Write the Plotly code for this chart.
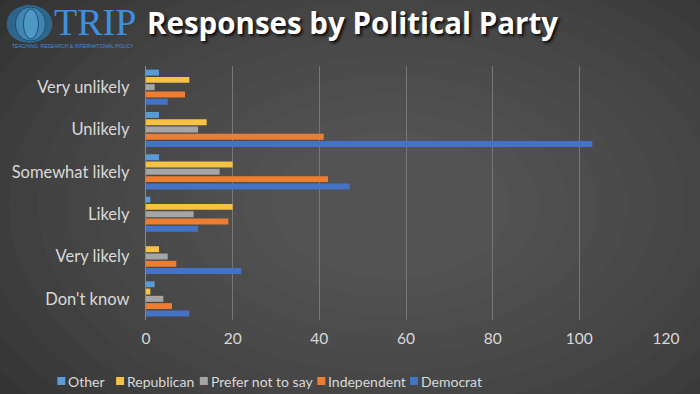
import plotly.graph_objects as go

categories = ["Very unlikely", "Unlikely", "Somewhat likely", "Likely", "Very likely", "Don't know"]
series_names = ["Other", "Republican", "Prefer not to say", "Independent", "Democrat"]
other = [3, 3, 3, 1, 0, 2]
republican = [10, 14, 20, 20, 3, 1]
prefer_not = [2, 12, 17, 11, 5, 4]
independent = [9, 41, 42, 19, 7, 6]
democrat = [5, 103, 47, 12, 22, 10]
x_ticks = [0, 20, 40, 60, 80, 100, 120]

values = [other, republican, prefer_not, independent, democrat]
colors = ["#5b9bd5", "#f6c244", "#a5a5a5", "#ed7d31", "#4472c4"]

W, H = 700, 394
L, R, T, B = 144, 34, 66, 74
PW, PH = W - L - R, H - T - B

def px(x):
    return (x - L) / PW

def py(y):
    return (H - B - y) / PH

fig = go.Figure()
for name, vals, col in zip(series_names, values, colors):
    fig.add_trace(go.Bar(y=categories, x=vals, name=name, orientation="h", showlegend=False,
                         marker=dict(color=col, line=dict(width=0))))

shapes = []
# background radial gradient
n = 16
for i in range(n):
    f = 1 - i / n
    cx, cy = 390, 205
    ax, ay = 90 + 470 * f, 55 + 300 * f
    shapes.append(dict(type="circle", xref="paper", yref="paper", layer="below",
                       x0=px(cx - ax), x1=px(cx + ax), y0=py(cy + ay), y1=py(cy - ay),
                       fillcolor="rgba(255,255,255,0.014)", line=dict(width=0)))
# logo globe
shapes.append(dict(type="circle", xref="paper", yref="paper", x0=px(4), x1=px(50), y0=py(43), y1=py(5),
                   fillcolor="#2f6f9a", line=dict(width=0), opacity=0.85))
shapes.append(dict(type="circle", xref="paper", yref="paper", x0=px(13), x1=px(43), y0=py(41), y1=py(7),
                   fillcolor="#3f86b5", line=dict(color="#1f4f72", width=1)))
shapes.append(dict(type="circle", xref="paper", yref="paper", x0=px(21), x1=px(36), y0=py(39), y1=py(9),
                   fillcolor="#4f98c6", line=dict(color="#1f4f72", width=1)))

annotations = [
    dict(text="TRIP", xref="paper", yref="paper", x=px(50), y=py(22), xanchor="left", yanchor="middle",
         showarrow=False, font=dict(family="Liberation Serif", size=38, color="#3d8fe0")),
    dict(text="TEACHING, RESEARCH & INTERNATIONAL POLICY", xref="paper", yref="paper", x=px(7), y=py(46.5),
         xanchor="left", yanchor="middle", showarrow=False,
         font=dict(family="Liberation Sans", size=5, color="#3d8fe0")),
    dict(text="<b>Responses by Political Party</b>", xref="paper", yref="paper", x=px(143), y=py(22),
         xanchor="left", yanchor="middle", showarrow=False,
         font=dict(family="Open Sans", size=29.5, color="#ffffff",
                   shadow="2px 2px 3px rgba(0,0,0,0.85)")),
]

# legend (manual, to match the reference's compact layout)
leg_x = [55, 114, 198, 316, 409]
for name, col, lx in zip(series_names, colors, leg_x):
    shapes.append(dict(type="rect", xref="paper", yref="paper", x0=px(lx), x1=px(lx + 8),
                       y0=py(385), y1=py(377), fillcolor=col, line=dict(width=0)))
    annotations.append(dict(text=name, xref="paper", yref="paper", x=px(lx + 9), y=py(381),
                            xanchor="left", yanchor="middle", showarrow=False,
                            font=dict(family="Lato", size=14, color="#d9d9d9")))

fig.update_layout(
    width=W, height=H,
    margin=dict(l=L, r=R, t=T, b=B, pad=0),
    paper_bgcolor="#2b2b2b", plot_bgcolor="rgba(0,0,0,0)",
    barmode="group", bargap=0.14, bargroupgap=0.18,
    shapes=shapes, annotations=annotations,
    font=dict(family="Lato", color="#d9d9d9", size=15),
    showlegend=False,
    xaxis=dict(range=[0, 120], tickvals=x_ticks, showgrid=True, gridcolor="#777777", gridwidth=1,
               zeroline=False, ticks="", ticklabelstandoff=7,
               tickfont=dict(size=15.5, color="#d9d9d9"), fixedrange=True),
    yaxis=dict(autorange="reversed", showgrid=False, showline=True, linecolor="#8a8a8a", linewidth=1,
               ticks="", tickfont=dict(size=16.5, color="#d9d9d9"), ticksuffix="   "),
)

fig.write_html("out.html", post_script="document.body.style.margin='0';",
               config={"displayModeBar": False})
